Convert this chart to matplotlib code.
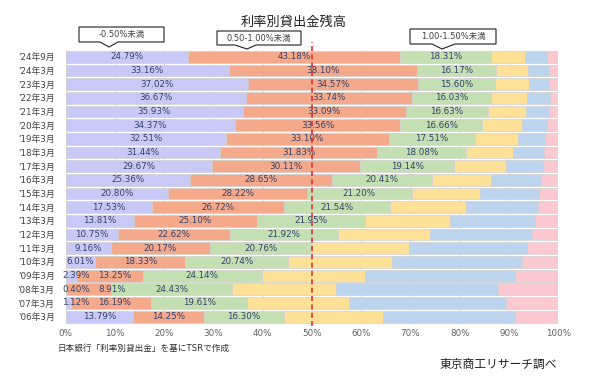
import matplotlib.pyplot as plt
from matplotlib.patches import Polygon

plt.rcParams['font.family'] = ['DejaVu Sans', 'Noto Sans CJK JP']

# rows, top to bottom
periods = ["'24年9月", "'24年3月", "'23年3月", "'22年3月", "'21年3月", "'20年3月",
           "'19年3月", "'18年3月", "'17年3月", "'16年3月", "'15年3月", "'14年3月",
           "'13年3月", "'12年3月", "'11年3月", "'10年3月", "'09年3月", "'08年3月",
           "'07年3月", "'06年3月"]

# labelled shares (%)
under_050 = [24.79, 33.16, 37.02, 36.67, 35.93, 34.37, 32.51, 31.44, 29.67, 25.36,
             20.80, 17.53, 13.81, 10.75, 9.16, 6.01, 2.39, 0.40, 1.12, 13.79]
r050_100 = [43.18, 38.10, 34.57, 33.74, 33.09, 33.56, 33.10, 31.83, 30.11, 28.65,
            28.22, 26.72, 25.10, 22.62, 20.17, 18.33, 13.25, 8.91, 16.19, 14.25]
r100_150 = [18.31, 16.17, 15.60, 16.03, 16.63, 16.66, 17.51, 18.08, 19.14, 20.41,
            21.20, 21.54, 21.95, 21.92, 20.76, 20.74, 24.14, 24.43, 19.61, 16.30]
# unlabelled shares
r150_200 = [7.0, 6.4, 6.9, 7.3, 7.8, 8.1, 8.7, 9.5, 10.4, 12.0,
            13.9, 15.5, 17.1, 18.7, 19.7, 21.1, 21.0, 21.2, 20.7, 20.1]
r200_250 = [4.4, 4.2, 4.1, 4.5, 4.6, 5.1, 5.5, 6.2, 7.6, 10.0,
            12.0, 14.6, 17.4, 20.6, 23.8, 26.4, 30.4, 32.9, 31.7, 26.7]
r250_up = [2.3, 2.0, 1.8, 1.8, 2.0, 2.2, 2.6, 2.9, 3.0, 3.5,
           3.9, 4.1, 4.6, 5.4, 6.4, 7.4, 8.8, 12.1, 10.7, 8.9]

series = [under_050, r050_100, r100_150, r150_200, r200_250, r250_up]
colors = ['#c9c9f7', '#f4a98a', '#c4dfb2', '#fee196', '#bdd4ee', '#fbc9cf']
n_labelled = 3

W, H = 591, 385
fig = plt.figure(figsize=(W / 100, H / 100), dpi=100)
ax = fig.add_axes([65.5 / W, 1 - 323.5 / H, (558.3 - 65.5) / W, (323.5 - 50) / H])

ypos = list(range(len(periods)))
left = [0.0] * len(periods)
row_labels = [[] for _ in periods]
for k, (vals, col) in enumerate(zip(series, colors)):
    ax.barh(ypos, vals, left=left, height=0.86, color=col,
            edgecolor='#d0d0d0', linewidth=0.5, zorder=2)
    if k < n_labelled:
        for y, l, v in zip(ypos, left, vals):
            t = ax.text(l + v / 2, y, '%.2f%%' % v, ha='center', va='center',
                        fontsize=6.3, color='#33406a', zorder=4)
            row_labels[y].append(t)
    left = [a + b for a, b in zip(left, vals)]

ax.set_ylim(len(periods) - 0.5, -0.5)
ax.set_xlim(0, 100)
ax.set_yticks(ypos)
ax.set_yticklabels(periods, fontsize=6.3, color='#404040')
ax.set_xticks(range(0, 101, 10))
ax.set_xticklabels(['%d%%' % t for t in range(0, 101, 10)], fontsize=6.3, color='#606060')
ax.tick_params(axis='y', length=0, pad=8)
ax.tick_params(axis='x', length=0, pad=4)
ax.grid(axis='x', color='#d9d9d9', linewidth=0.6, zorder=0)
for s in ax.spines.values():
    s.set_visible(False)

# keep tiny-segment labels inside the plot and apart from each other
fig.canvas.draw()
renderer = fig.canvas.get_renderer()
ax_bb = ax.get_window_extent(renderer)
px_per_unit = ax_bb.width / 100.0
for labels in row_labels:
    prev_right = ax_bb.x0 - 3
    for t in labels:
        bb = t.get_window_extent(renderer)
        min_left = prev_right if t is labels[0] else prev_right + 8
        shift = max(0.0, min_left - bb.x0)
        if shift > 0:
            t.set_x(t.get_position()[0] + shift / px_per_unit)
        prev_right = bb.x1 + shift

# 50% reference line
ax.axvline(50, ymin=-0.01, ymax=1.03, color='#e03030', linestyle=(0, (3, 2)),
           linewidth=1.2, clip_on=False, zorder=5)

fig.text(293.5 / W, 1 - 22 / H, '利率別貸出金残高', ha='center', va='center',
         fontsize=9.5, color='#202020')


def callout(x0, x1, y0, y1, b0, b1, tx, ty, label):
    pts = [(x0, y0), (x1, y0), (x1, y1), (b1, y1), (tx, ty), (b0, y1), (x0, y1)]
    pts = [(px / W, 1 - py / H) for px, py in pts]
    fig.patches.append(Polygon(pts, closed=True, facecolor='white', edgecolor='#202020',
                               linewidth=0.8, transform=fig.transFigure, zorder=6))
    fig.text((x0 + x1) / 2 / W, 1 - (y0 + y1) / 2 / H, label, ha='center', va='center',
             fontsize=6, color='#404040', zorder=7)


callout(79, 164, 27, 42, 100, 118, 109, 47, '-0.50%未満')
callout(217, 301, 31, 45, 235, 256, 247, 49, '0.50-1.00%未満')
callout(410, 496, 29, 44, 432, 455, 442, 49, '1.00-1.50%未満')

fig.text(58 / W, 1 - 348 / H, '日本銀行「利率別貸出金」を基にTSRで作成', ha='left', va='center',
         fontsize=6.2, color='#303030')
fig.text(557 / W, 1 - 364 / H, '東京商工リサーチ調べ', ha='right', va='center',
         fontsize=8.5, color='#202020')

fig.savefig('out.png', dpi=100)
